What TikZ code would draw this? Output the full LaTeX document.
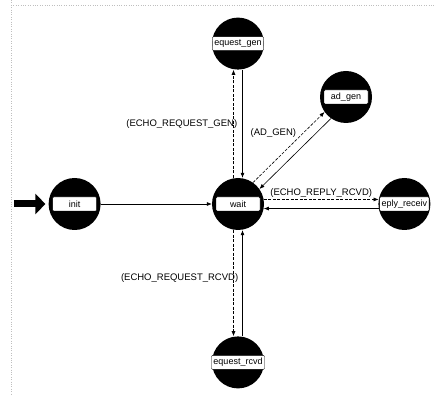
\documentclass[tikz,border=0pt]{standalone}
\usepackage{fontspec}
\setsansfont{Liberation Sans}
\usepackage{tikz}
\usetikzlibrary{arrows.meta, positioning}

\begin{document}
\begin{tikzpicture}[
    x=1pt, y=-1pt,
    node distance=108pt,
    state/.style={
        circle,
        fill=black,
        minimum size=52pt,
        inner sep=0pt,
        label={[statename]center:#1}
    },
    statename/.style={
        rectangle,
        draw,
        fill=white,
        thin,
        rounded corners=1pt,
        minimum width=44pt,
        minimum height=14pt,
        inner xsep=2pt,
        inner ysep=1pt,
        font=\fontsize{9}{10}\selectfont\sffamily
    },
    uncond/.style={
        -{Latex[length=5pt,width=4pt]},
        semithick
    },
    cond/.style={
        uncond,
        dash pattern=on 3pt off 1.5pt
    },
    trans/.style={
        font=\fontsize{9.5}{11}\selectfont\sffamily,
        inner sep=1pt
    }
]

\useasboundingbox[fill=white] (0,0) rectangle (436,395);

% canvas edge
\draw[gray!50, dotted] (11,0) -- (11,395);
\draw[gray!50, dotted] (11,5) -- (436,5);

\node[state={wait}] (wait) at (238,204) {};

\node[state={equest\_gen}, above=of wait] (reqgen) {};
\node[state={equest\_rcvd}, below=106pt of wait] (reqrcvd) {};
\node[state={init}, left=111pt of wait] (init) {};
\node[state={eply\_receiv}, right=114pt of wait] (replyrecv) {};
\node[state={ad\_gen}] (adgen) at (346,97) {};

\coordinate[left=34pt of init] (entry);

\draw[line width=7pt, -{Triangle[length=10pt,width=20pt]}] (entry) -- ([xshift=-3pt]init.west);

\draw[uncond] (init) -- (wait);

\draw[cond] ([xshift=-4.5pt]wait.north) --
    node[trans, left=-5pt]{(ECHO\_REQUEST\_GEN)} ([xshift=-4.5pt]reqgen.south);
\draw[uncond] ([xshift=4.5pt]reqgen.south) -- ([xshift=4.5pt]wait.north);

\draw[cond] (wait.55) --
    node[trans, pos=0.62, above left=0pt]{(AD\_GEN)} (adgen.215);
\draw[uncond] (adgen.235) -- (wait.35);

\draw[cond] (wait.10) --
    node[trans, above=1pt]{(ECHO\_REPLY\_RCVD)} (replyrecv.170);
\draw[uncond] (replyrecv.190) -- (wait.350);

\draw[cond] ([xshift=-4.5pt]wait.south) --
    node[trans, pos=0.45, left=-6pt]{(ECHO\_REQUEST\_RCVD)} ([xshift=-4.5pt]reqrcvd.north);
\draw[uncond] ([xshift=4.5pt]reqrcvd.north) -- ([xshift=4.5pt]wait.south);

\end{tikzpicture}
\end{document}
